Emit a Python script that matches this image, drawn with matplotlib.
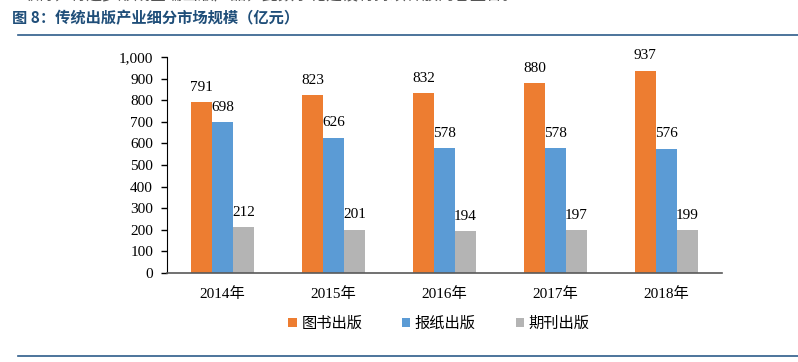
import numpy as np
import matplotlib.pyplot as plt
from matplotlib.lines import Line2D

# data
years = ["2014年", "2015年", "2016年", "2017年", "2018年"]
books = [791, 823, 832, 880, 937]
newspapers = [698, 626, 578, 578, 576]
periodicals = [212, 201, 194, 197, 199]
series_names = ["图书出版", "报纸出版", "期刊出版"]
colors = ["#ED7D31", "#5B9BD5", "#B4B4B4"]

fonts = ["Liberation Serif", "Noto Sans CJK SC", "DejaVu Sans"]
plt.rcParams['font.family'] = fonts

fig = plt.figure(figsize=(7.98, 3.62), dpi=100)
ax = fig.add_axes([167/798, 1-273/362, 555/798, 216/362])

x = np.arange(len(years))
w = 0.19
for i, (vals, c) in enumerate(zip([books, newspapers, periodicals], colors)):
    xs = x + (i - 1) * w
    ax.bar(xs, vals, width=w, color=c, label=series_names[i], zorder=2)
    for xi, v in zip(xs, vals):
        ax.annotate(str(v), (xi, v), xytext=(0, 6), textcoords="offset points",
                    ha="center", va="bottom", fontsize=11, family=fonts)

ax.set_xlim(-0.5, len(years) - 0.5)
ax.set_ylim(0, 1000)
ax.set_yticks(range(0, 1001, 100))
ax.set_yticklabels([f"{v:,}" for v in range(0, 1001, 100)], fontsize=11)
ax.set_xticks(x)
ax.set_xticklabels(years, fontsize=11)
ax.tick_params(axis="x", length=0, pad=10)
ax.tick_params(axis="y", length=4, width=1, direction="out", pad=6)
for s in ["top", "right"]:
    ax.spines[s].set_visible(False)
ax.spines["left"].set_color("black")
ax.spines["bottom"].set_color("#595959")
ax.spines["bottom"].set_linewidth(1.2)

ax.legend(loc="upper center", bbox_to_anchor=(0.49, -0.13), ncol=3, frameon=False,
          handlelength=0.55, handleheight=0.55, handletextpad=0.3, columnspacing=2.6,
          prop={"family": ["Noto Sans CJK SC"], "size": 11})

# page header / footer decoration
fig.text(0.028, 1.012, "取得，将逐步形成全端出版产品，此数字化建设将持续释放内容整合。",
         fontsize=11.5, color="#555555", va="center", family=["Noto Sans CJK SC"])
fig.text(12/798, 1-18/362, "图 8：传统出版产业细分市场规模（亿元）", fontsize=11,
         fontweight="bold", color="#1F4E79", va="center", family=["Noto Sans CJK SC"])
fig.add_artist(Line2D([18/798, 1], [1-35/362, 1-35/362], color="#2E5C8A", lw=1.2))
fig.add_artist(Line2D([18/798, 1], [1-356/362, 1-356/362], color="#2E5C8A", lw=1.2))

fig.savefig("out.png", dpi=100)
